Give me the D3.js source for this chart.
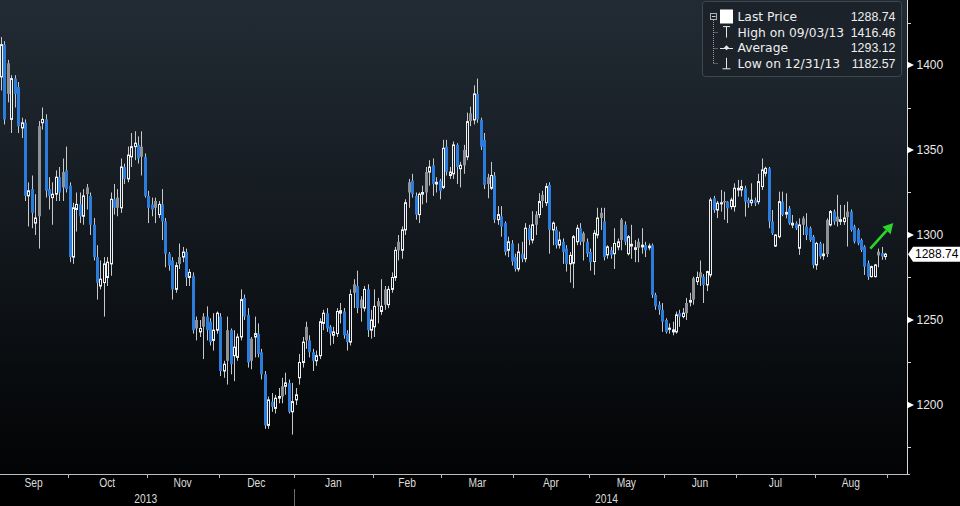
<!DOCTYPE html>
<html><head><meta charset="utf-8">
<script src="https://cdn.jsdelivr.net/npm/d3@7/dist/d3.min.js"></script>
<style>html,body{margin:0;padding:0;background:#000;overflow:hidden}</style>
</head><body><svg id="c" width="960" height="506"></svg>
<script>
// ---- categories (trading days per month, Sep 3 2013 .. Aug 29 2014) ----
const months = ["Sep","Oct","Nov","Dec","Jan","Feb","Mar","Apr","May","Jun","Jul","Aug"];
const monthDays = [20,23,21,22,23,20,21,22,22,21,23,21];
const years = ["2013","2014"];
const yearMonthCount = [4, 8];
const yTicks = [1200,1250,1300,1350,1400];
const yMinorTicks = [1175,1225,1275,1325,1375,1425];

// ---- series values (OHLC) ----
const open = [
1393,1412,1401,1368,1392,1387,1363,1366,1323,1327,1307,1364,1366,1368,1327,1322,1324,1334,1337,1338,
1329,1287,1315,1318,1311,1328,1323,1306,1287,1270,1272,1275,1283,1321,1322,1316,1340,1333,1346,1352,1353,1352,1346,
1323,1318,1320,1312,1318,1308,1289,1285,1268,1287,1287,1290,1275,1276,1250,1243,1252,1252,1249,1238,1244,
1252,1220,1244,1244,1229,1228,1240,1263,1253,1239,1240,1242,1231,1218,1188,1202,1198,1204,1211,1211,1213,1196,
1203,1216,1225,1246,1238,1231,1226,1229,1248,1254,1246,1241,1242,1254,1255,1242,1237,1271,1270,1262,1257,1268,1244,
1246,1261,1255,1268,1259,1268,1275,1296,1291,1303,1331,1332,1323,1312,1324,1337,1337,1341,1330,1332,
1328,1352,1335,1336,1353,1339,1350,1346,1371.6,1367.7,1383,1367.7,1356,1334,1327.5,1335,1309,1311,1307,1291,1295,
1287,1280,1289,1286,1304,1297,1312,1312,1323.6,1319,1329.5,1303,1303,1294,1296,1292,1283,1283.4,1296,1304,1301,1296,
1290,1284.4,1300,1313,1308,1288.3,1291,1289,1293,1309,1306,1289,1293.5,1291.5,1296,1293,1294,1292.5,1294,1264.8,1259,1256,
1250,1244.5,1243,1243,1254,1252,1260,1260.5,1274.6,1272.6,1278,1275.5,1270.6,1276.5,1321.6,1314.7,1318.3,1320,1319.6,1316.7,1316.7,
1326.5,1326.5,1327.5,1320.6,1319,1320.6,1319.6,1328.5,1336.3,1339.2,1307.9,1293.5,1299,1319.6,1312.3,1315.7,1305.9,1306.9,1292.2,1309.8,1305,1304,1299,
1282.4,1295,1287.8,1308.9,1305.9,1313.8,1310.8,1308,1307.9,1313.8,1313.8,1305,1303,1297.1,1293.2,1283.4,1275.5,1275.5,1290.2,1289.3,1287.3
];
const high = [
1416.46,1414,1403,1394,1394,1390,1369,1368,1331,1335,1324,1367,1375,1371,1334,1331,1338,1340,1345,1352,
1331,1319,1325,1325,1327,1330,1325,1310,1294,1285,1287,1287,1325,1330,1327,1345,1342,1352,1360,1361,1358,1361,1348,
1326,1322,1322,1320,1327,1310,1290,1287,1284,1295,1293,1292,1280,1278,1252,1250,1254,1258,1251,1254,1255,
1254,1226,1252,1245,1244,1242,1268,1265,1257,1240,1252,1248,1233,1220,1205,1207,1206,1210,1216,1219,1215,1213,
1210,1230,1240,1249,1241,1233,1232,1251,1256,1257,1247,1246,1257,1260,1257,1244,1268,1274,1279,1264,1270,1271,1256,
1268,1263,1274,1270,1270,1278,1293,1300,1305,1321,1333,1336,1325,1325,1329,1340,1344,1345,1334,1333,
1356,1356,1340,1355,1354,1343,1353,1372,1375.5,1388,1392,1369,1360,1336,1343,1337,1317,1317,1308,1299,1297,
1289,1295,1296,1307,1306,1314,1314,1324.6,1326,1330.5,1331,1308,1305,1302,1298,1294,1290,1300,1306,1307,1302,1298,
1292,1303,1316,1316,1316,1294,1293,1304,1298,1310,1308,1300,1306,1297,1298,1304,1296,1295,1295,1266,1261,1260,
1251,1248,1249,1255,1256,1257,1263,1266,1275.5,1278.5,1285,1277,1279,1322,1323,1320,1326.5,1325.5,1320,1322,1330.4,
1332.4,1332.4,1329,1322,1330.4,1322,1336,1345,1340.2,1340,1314.7,1300.5,1325.5,1325.5,1324.5,1317,1311.8,1308,1309.8,1311,1312.8,1305,1300,
1296,1296,1295,1309.8,1314.7,1315,1323.6,1317.7,1317.7,1319.6,1315,1306,1304,1298,1294,1285,1282,1283,1292,1293,1289.5
];
const low = [
1385,1365,1378,1360,1375,1360,1357,1320,1305,1304,1300,1292,1362,1322,1315,1306,1320,1320,1320,1325,
1284,1283,1302,1307,1306,1315,1300,1285,1262,1268,1252,1270,1276,1312,1311,1313,1330,1331,1340,1344,1342,1335,1322,
1307,1311,1307,1310,1297,1281,1279,1262,1266,1280,1284,1270,1270,1242,1238,1240,1227,1238,1235,1232,1242,
1217,1216,1212,1218,1214,1226,1238,1250,1222,1221,1228,1228,1215,1186,1186,1196,1195,1201,1201,1206,1195,1182.57,
1200,1212,1222,1233,1228,1220,1223,1227,1244,1243,1235,1236,1240,1248,1239,1232,1235,1257,1254,1249,1255,1240,1239,
1240,1248,1253,1256,1257,1266,1273,1285,1286,1300,1316,1322,1309,1307,1318,1319,1329,1323,1325,1321,
1327,1335,1333,1333,1330,1328,1336,1344,1364,1365,1366,1350,1327,1321.6,1326.5,1307,1306,1299,1288,1287,1282,
1278.5,1278.5,1284,1284,1294,1295,1300,1310,1316,1317,1289,1294,1292,1292,1283,1278.5,1272,1268.7,1294,1294,1285,1287,
1279,1276.5,1298,1303,1285,1286,1286,1280,1291,1291,1294,1288,1286,1284,1284,1289,1287,1291,1263,1256,1253,1243,
1242,1242,1241,1242,1246,1251,1250,1258,1259,1270.6,1270,1260,1267,1275,1313,1310,1313.8,1309,1307,1315,1313.8,
1322.6,1322.6,1310.8,1316,1317,1317,1318,1326.5,1334.4,1304,1300,1293,1298,1311,1309.8,1306,1304,1303,1288.3,1300,1297,1296,1280.4,
1279.5,1286,1285.4,1287,1305,1306,1305,1305.9,1305.9,1293.2,1302,1295,1294,1290,1276.5,1273.6,1275,1275,1281,1285.4,1285.4
];
const close = [
1412,1368,1383,1392,1383,1364,1366,1323,1326,1313,1310,1311,1368,1326,1323,1324,1334,1325,1328,1327,
1287,1316,1318,1311,1323,1324,1306,1287,1272,1274,1283,1284,1321,1316,1316,1340,1333,1347,1352,1354,1345,1346,1323,
1316,1315,1316,1318,1308,1289,1282,1268,1282,1283,1290,1275,1278,1244,1245,1245,1246,1244,1237,1244,1254,
1220,1224,1226,1224,1234,1240,1262,1252,1225,1226,1242,1230,1218,1188,1203,1199,1204,1205,1205,1213,1196,1202,
1206,1225,1237,1238,1231,1226,1229,1249,1254,1245,1242,1243,1255,1255.5,1241,1237,1265,1266,1257,1257,1268,1244,1250,
1258,1258,1258,1259,1268,1275,1291,1291,1303,1319,1325,1324,1312,1324,1325,1325,1340,1330,1331,1326,
1351,1337,1337,1353,1340,1341,1341,1366.7,1367,1383,1368,1352,1329.5,1330,1335,1309,1312,1305,1290,1296,1284.4,
1280,1290,1286,1304,1297,1306,1306,1319.7,1320,1328.5,1303,1307,1294,1297,1290,1283,1288,1299,1304,1296,1296,1289,
1284,1301,1310,1310,1287,1293,1288.3,1295,1296,1297,1296,1299,1294.5,1292.5,1292.5,1294,1291,1293.5,1264.8,1258,1256,1249,
1243,1245.2,1244.2,1253,1252,1254,1254,1261.5,1262,1275,1275,1270.6,1278.5,1320.6,1314.7,1318.7,1319,1319.2,1315.7,1320.6,1327.5,
1327.5,1328.5,1319.6,1318.7,1320.5,1318.7,1331.4,1338.3,1339.2,1307.9,1301,1300,1319.6,1311.8,1313.3,1306.9,1306.9,1304,1305.9,1306,1300,1297,1282.4,
1295,1287.3,1288.8,1288.8,1313.8,1307.9,1307.9,1309,1310,1310.5,1303,1296.1,1295.1,1291.2,1281.4,1275.5,1281.4,1282.4,1288,1287.3,1288.74
];

// ---- legend / annotation ----
const legendLabels = ["Last Price","High on 09/03/13","Average","Low on 12/31/13"];
const legendValues = ["1288.74","1416.46","1293.12","1182.57"];
const lastPrice = 1288.74;
const arrowFrom = [253.7, 1292];   // [day index, price]
const arrowTo = [260.4, 1307];

// ---- build ----
const W = 960, H = 506;
const plotRight = 907, plotBottom = 474;
const svg = d3.select("#c");
const N = close.length;
const x = d3.scaleLinear().domain([0, N - 1]).range([1, 885]);
const step = x(1) - x(0);
const y = d3.scaleLinear().domain([1159.4, 1438.24]).range([plotBottom, 0]);

const defs = svg.append("defs");
const grad = defs.append("linearGradient").attr("id","bg").attr("x1",0).attr("y1",0).attr("x2",0).attr("y2",1);
grad.append("stop").attr("offset","0%").attr("stop-color","#222b34");
grad.append("stop").attr("offset","45%").attr("stop-color","#141a20");
grad.append("stop").attr("offset","100%").attr("stop-color","#020304");

svg.append("rect").attr("width",W).attr("height",H).attr("fill","#000");
svg.append("rect").attr("x",0).attr("y",0).attr("width",plotRight).attr("height",plotBottom).attr("fill","url(#bg)");

const data = close.map((c, i) => ({i, o: open[i], h: high[i], l: low[i], c, pc: i ? close[i-1] : open[i]}));
function kind(d){ if (d.c >= d.o) return "up"; return d.c < d.pc ? "down" : "gap"; }

const g = svg.append("g");
const cand = g.selectAll("g.cd").data(data).join("g").attr("class","cd");
const BLUE = "#2b7cdb", GRAY = "#8e9296", WHITE = "#eef0f2", WICK = "#c6c8ca";

cand.each(function(d){
  const k = kind(d);
  const sel = d3.select(this);
  const cx = Math.round(x(d.i)) + 0.5;
  const top = y(Math.max(d.o, d.c)), bot = y(Math.min(d.o, d.c));
  if (k === "up") {
    sel.append("line").attr("x1",cx).attr("x2",cx).attr("y1",y(d.h)).attr("y2",top).attr("stroke",WICK).attr("stroke-width",1);
    sel.append("line").attr("x1",cx).attr("x2",cx).attr("y1",bot).attr("y2",y(d.l)).attr("stroke",WICK).attr("stroke-width",1);
    sel.append("rect").attr("x",cx-1).attr("y",top).attr("width",2).attr("height",Math.max(1, bot-top))
      .attr("fill","none").attr("stroke",WHITE).attr("stroke-width",1);
  } else {
    sel.append("line").attr("x1",cx).attr("x2",cx).attr("y1",y(d.h)).attr("y2",y(d.l)).attr("stroke",WICK).attr("stroke-width",1);
    sel.append("rect").attr("x",cx-1.5).attr("y",top).attr("width",3).attr("height",Math.max(1, bot-top))
      .attr("fill", k === "down" ? BLUE : GRAY);
  }
});

// ---- right axis ----
const ax = svg.append("g");
ax.append("rect").attr("x",plotRight).attr("y",0).attr("width",W-plotRight).attr("height",plotBottom).attr("fill","#000");
ax.append("line").attr("x1",plotRight+0.5).attr("x2",plotRight+0.5).attr("y1",0).attr("y2",plotBottom).attr("stroke","#d8d8d8");
ax.selectAll("line.minor").data(yMinorTicks).join("line").attr("class","minor")
  .attr("x1",plotRight).attr("x2",plotRight+4).attr("y1",d=>Math.round(y(d))+0.5).attr("y2",d=>Math.round(y(d))+0.5).attr("stroke","#d8d8d8");
ax.selectAll("path.tri").data(yTicks).join("path").attr("class","tri")
  .attr("d", d => { const yy = y(d); return `M${plotRight},${yy-3.5}L${plotRight+7},${yy}L${plotRight},${yy+3.5}Z`; })
  .attr("fill","#ffffff");
ax.selectAll("text.yl").data(yTicks).join("text").attr("class","yl")
  .attr("x", plotRight+9.5).attr("y", d => y(d)).attr("dy","0.36em")
  .attr("font-family","Liberation Sans, Arial, sans-serif").attr("font-size",12).attr("fill","#e8e8e8")
  .text(d => d);

// last price tag
const ly = y(lastPrice);
ax.append("path").attr("d",`M${plotRight+1},${ly}L${plotRight+6},${ly-7.5}L${W},${ly-7.5}L${W},${ly+7.5}L${plotRight+6},${ly+7.5}Z`).attr("fill","#ffffff");
ax.append("text").attr("x",plotRight+8).attr("y",ly).attr("dy","0.36em")
  .attr("font-family","Liberation Sans, Arial, sans-serif").attr("font-size",12).attr("fill","#000").text(lastPrice.toFixed(2));

// ---- bottom axis ----
const bx = svg.append("g");
bx.append("line").attr("x1",0).attr("x2",plotRight+3).attr("y1",plotBottom+0.5).attr("y2",plotBottom+0.5).attr("stroke","#bdbdbd");
let starts = [], acc = 0;
monthDays.forEach(n => { starts.push(acc); acc += n; });
const tickXs = starts.slice(1).map(s => x(s) - step/2).concat([x(N-1) + step/2]);
bx.selectAll("line.mt").data(tickXs).join("line").attr("class","mt")
  .attr("x1",d=>Math.round(d)+0.5).attr("x2",d=>Math.round(d)+0.5).attr("y1",plotBottom).attr("y2",plotBottom+4).attr("stroke","#bdbdbd");
bx.selectAll("text.ml").data(months).join("text").attr("class","ml")
  .attr("transform",(m,k) => { const cx = (x(starts[k]) + x(starts[k] + monthDays[k] - 1)) / 2; return `translate(${cx},${487}) scale(0.82,1)`; })
  .attr("text-anchor","middle").attr("font-family","Liberation Sans, Arial, sans-serif").attr("font-size",12.5).attr("fill","#dcdcdc")
  .text(d => d);
// years
const yearStartIdx = [0, starts[yearMonthCount[0]]];
const divX = x(yearStartIdx[1]) - step/2;
bx.append("line").attr("x1",Math.round(divX)+0.5).attr("x2",Math.round(divX)+0.5).attr("y1",489).attr("y2",H).attr("stroke","#6a6a6a");
const yearCenters = [(x(0) - step + divX)/2, (divX + plotRight)/2 + 6];
bx.selectAll("text.yr").data(years).join("text").attr("class","yr")
  .attr("transform",(d,k) => `translate(${yearCenters[k]},${503}) scale(0.82,1)`)
  .attr("text-anchor","middle").attr("font-family","Liberation Sans, Arial, sans-serif").attr("font-size",12.5).attr("fill","#dcdcdc")
  .text(d => d);

// ---- green arrow annotation ----
const ax1 = x(arrowFrom[0]), ay1 = y(arrowFrom[1]), ax2 = x(arrowTo[0]), ay2 = y(arrowTo[1]);
const ang = Math.atan2(ay2 - ay1, ax2 - ax1);
const hl = 10, hw = 5.5;
const bxp = ax2 - hl*Math.cos(ang), byp = ay2 - hl*Math.sin(ang);
svg.append("line").attr("x1",ax1).attr("y1",ay1).attr("x2",bxp).attr("y2",byp).attr("stroke","#2bd62b").attr("stroke-width",2.6);
svg.append("path").attr("d",`M${ax2},${ay2}L${bxp + hw*Math.sin(ang)},${byp - hw*Math.cos(ang)}L${bxp - hw*Math.sin(ang)},${byp + hw*Math.cos(ang)}Z`).attr("fill","#2bd62b");

// ---- legend ----
const lg = svg.append("g");
lg.append("rect").attr("x",702.5).attr("y",1.5).attr("width",199).attr("height",75).attr("rx",3)
  .attr("fill","#1b2229").attr("stroke","#3e464e");
const rowY = legendLabels.map((_, k) => 16.5 + k * 15.6);
lg.selectAll("text.lab").data(legendLabels).join("text").attr("class","lab")
  .attr("x",737.5).attr("y",(d,k)=>rowY[k]).attr("dy","0.36em")
  .attr("font-family","DejaVu Sans, sans-serif").attr("font-size",12.3).attr("fill","#eeeeee").text(d=>d);
lg.selectAll("text.val").data(legendValues).join("text").attr("class","val")
  .attr("x",895.5).attr("y",(d,k)=>rowY[k]).attr("dy","0.36em").attr("text-anchor","end")
  .attr("font-family","Liberation Sans, Arial, sans-serif").attr("font-size",12.4).attr("fill","#eeeeee").text(d=>d);
// tree lines
lg.append("line").attr("x1",713.5).attr("x2",713.5).attr("y1",20).attr("y2",rowY[3]).attr("stroke","#9a9a9a").attr("stroke-dasharray","1,1");
rowY.slice(1).forEach(r => lg.append("line").attr("x1",713.5).attr("x2",718).attr("y1",Math.round(r)+0.5).attr("y2",Math.round(r)+0.5).attr("stroke","#9a9a9a").attr("stroke-dasharray","1,1"));
// collapse box
lg.append("rect").attr("x",710.5).attr("y",13.5).attr("width",6).attr("height",6).attr("fill","#1b2229").attr("stroke","#b0b0b0");
lg.append("line").attr("x1",712).attr("x2",715.5).attr("y1",16.5).attr("y2",16.5).attr("stroke","#d0d0d0");
// icons
lg.append("rect").attr("x",720).attr("y",rowY[0]-7).attr("width",13).attr("height",14).attr("fill","#ffffff");
const ic = 726.5;
lg.append("line").attr("x1",ic).attr("x2",ic).attr("y1",rowY[1]-5.5).attr("y2",rowY[1]+5.5).attr("stroke","#e8e8e8");
lg.append("line").attr("x1",ic-3.5).attr("x2",ic+3.5).attr("y1",rowY[1]-5.5).attr("y2",rowY[1]-5.5).attr("stroke","#e8e8e8");
lg.append("line").attr("x1",720).attr("x2",733).attr("y1",Math.round(rowY[2])+0.5).attr("y2",Math.round(rowY[2])+0.5).attr("stroke","#e8e8e8");
lg.append("path").attr("d",`M${ic},${rowY[2]-2.5}L${ic+2.5},${rowY[2]}L${ic},${rowY[2]+2.5}L${ic-2.5},${rowY[2]}Z`).attr("fill","#e8e8e8");
lg.append("line").attr("x1",ic).attr("x2",ic).attr("y1",rowY[3]-5.5).attr("y2",rowY[3]+5.5).attr("stroke","#e8e8e8");
lg.append("line").attr("x1",ic-4).attr("x2",ic+4).attr("y1",rowY[3]+5.5).attr("y2",rowY[3]+5.5).attr("stroke","#e8e8e8");
</script></body></html>
